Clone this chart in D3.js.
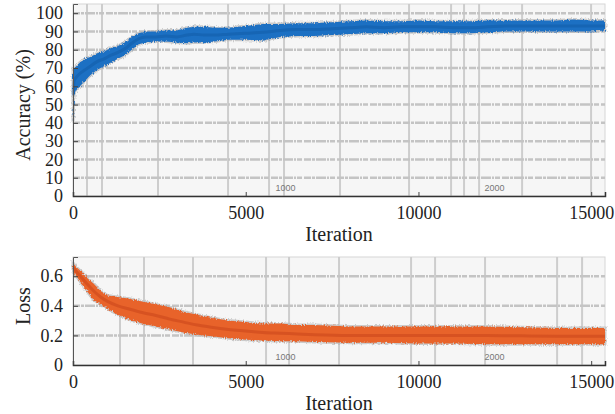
<!DOCTYPE html>
<html>
<head>
<meta charset="utf-8">
<script src="https://cdn.jsdelivr.net/npm/d3@7"></script>
<style>
  body { margin: 0; background: #fff; }
  svg { display: block; }
</style>
</head>
<body>
<div id="chart"></div>
<script>
// accuracy band
const accIter  = [0, 30, 100, 200, 350, 500, 700, 900, 1100, 1300, 1500, 1700, 1900, 2100, 2400, 2700, 3000, 3300, 3500, 3800, 4100, 4500, 5000, 5500, 6000, 6500, 7000, 7500, 8000, 8500, 9000, 9500, 10000, 10500, 11000, 11500, 12000, 12500, 13000, 13500, 14000, 14500, 15000, 15400];
const accUpper = [70, 70, 71, 73, 75, 76, 78, 79, 81, 82, 84, 87, 89, 90, 90, 90.5, 90.5, 92, 92.5, 92.5, 92, 92, 93, 94, 94, 94.5, 94.5, 95, 95.5, 96, 95.5, 95.5, 96, 95.5, 95.5, 95.5, 96, 96, 96, 96, 96, 96.5, 96, 96];
const accLower = [40, 55, 58, 60, 63, 66, 69, 71, 73, 75, 77, 80, 83, 84, 84.5, 84.5, 84, 83.5, 84, 84, 84.5, 85.5, 85.5, 85, 87, 87.5, 87.5, 88, 88.5, 89, 89, 89.5, 89.5, 89.5, 89, 89, 89.5, 90, 90, 90, 90, 90, 90, 90.5];
const accMean  = [55, 63, 65, 67, 69, 71, 73.5, 75, 77, 78.5, 80.5, 83.5, 86, 87, 87, 87.5, 87, 88, 88.5, 88, 88, 88.5, 89, 89.5, 90.5, 91, 91, 91.5, 92, 92.5, 92, 92.5, 92.5, 92.5, 92, 92, 92.5, 93, 93, 93, 93, 93, 93, 93];

// loss band
const lossIter  = [0, 100, 250, 400, 600, 800, 1000, 1300, 1600, 2000, 2400, 2800, 3200, 3600, 4000, 4500, 5000, 5500, 6000, 6500, 7000, 8000, 9000, 10000, 11000, 12000, 13000, 14000, 15000, 15400];
const lossUpper = [0.69, 0.66, 0.63, 0.59, 0.55, 0.50, 0.47, 0.46, 0.45, 0.43, 0.41, 0.39, 0.36, 0.34, 0.32, 0.30, 0.29, 0.28, 0.28, 0.27, 0.27, 0.26, 0.26, 0.26, 0.26, 0.26, 0.255, 0.25, 0.25, 0.25];
const lossLower = [0.63, 0.60, 0.55, 0.50, 0.44, 0.41, 0.38, 0.34, 0.31, 0.28, 0.26, 0.24, 0.22, 0.205, 0.195, 0.18, 0.17, 0.165, 0.16, 0.16, 0.155, 0.15, 0.15, 0.145, 0.145, 0.14, 0.14, 0.14, 0.14, 0.14];
const lossMean  = [0.66, 0.63, 0.59, 0.55, 0.50, 0.46, 0.43, 0.40, 0.38, 0.355, 0.335, 0.31, 0.29, 0.27, 0.255, 0.24, 0.23, 0.22, 0.215, 0.21, 0.205, 0.20, 0.20, 0.20, 0.20, 0.20, 0.197, 0.195, 0.195, 0.195];

// ticks
const xTicks    = [0, 5000, 10000, 15000];
const accTicks  = [0, 10, 20, 30, 40, 50, 60, 70, 80, 90, 100];
const lossTicks = [0, 0.2, 0.4, 0.6];

// background screenshot grid (vertical lines, in iterations) and epoch labels
const accVGrid  = [405, 840, 2461, 4488, 5675, 6109, 7730, 9728, 10944, 11320, 11755, 13000, 14997];
const lossVGrid = [1361, 2056, 3474, 5588, 6254, 7701, 9786, 10481, 11928, 14013, 14737];
const epochLabels = ["1000", "2000"];
const epochIters  = [6150, 12200];

const W = 615, H = 414;
const serif = '"Liberation Serif", "Times New Roman", serif';

const svg = d3.select("#chart").append("svg")
    .attr("width", W).attr("height", H);

// rough edge for the noisy training bands
const defs = svg.append("defs");
const rough = defs.append("filter").attr("id", "rough")
    .attr("x", "-2%").attr("y", "-10%").attr("width", "104%").attr("height", "120%");
rough.append("feTurbulence").attr("type", "fractalNoise")
    .attr("baseFrequency", "0.9 0.5").attr("numOctaves", 2).attr("seed", 3).attr("result", "n");
rough.append("feDisplacementMap").attr("in", "SourceGraphic").attr("in2", "n")
    .attr("scale", 4).attr("xChannelSelector", "R").attr("yChannelSelector", "G");

function panel(opt) {
  const {top, bottom, yDomain, yTicks, yFmt, vGrid, label, iter, upper, lower, mean, fill, dark, darkOp, labelY} = opt;
  const left = 73, right = 605;

  const x = d3.scaleLinear().domain([0, 15400]).range([left, right]);
  const y = d3.scaleLinear().domain(yDomain).range([bottom, top]);

  const g = svg.append("g");

  // plot background
  g.append("rect")
      .attr("x", left).attr("y", top)
      .attr("width", right - left).attr("height", bottom - top)
      .attr("fill", "#f6f6f6")
      .attr("stroke", "#d6d6d6").attr("stroke-width", 1);

  // vertical gridlines
  g.selectAll(".vg").data(vGrid).enter().append("line")
      .attr("x1", d => x(d)).attr("x2", d => x(d))
      .attr("y1", top).attr("y2", bottom)
      .attr("stroke", "#cdcdcd").attr("stroke-width", 2);

  // horizontal dashed gridlines
  g.selectAll(".hg").data(yTicks.filter(d => d > 0)).enter().append("line")
      .attr("x1", left).attr("x2", right)
      .attr("y1", d => y(d)).attr("y2", d => y(d))
      .attr("stroke", "#c4c4c4").attr("stroke-width", 2.5)
      .attr("stroke-dasharray", "7,1,3,1,10,1,2,1,5,2");

  // epoch labels
  g.selectAll(".ep").data(epochIters).enter().append("text")
      .attr("x", d => x(d)).attr("y", bottom - 5)
      .attr("text-anchor", "middle")
      .attr("font-family", "Liberation Sans, Arial, sans-serif")
      .attr("font-size", 9).attr("fill", "#777")
      .text((d, i) => epochLabels[i]);

  const pts = iter.map((t, i) => ({t, u: upper[i], l: lower[i], m: mean[i]}));

  const area = d3.area()
      .x(d => x(d.t)).y0(d => y(d.l)).y1(d => y(d.u))
      .curve(d3.curveLinear);

  const band = g.append("g").attr("filter", "url(#rough)");

  // fuzzy gray halo around the band
  band.append("path").datum(pts)
      .attr("d", area)
      .attr("fill", "none")
      .attr("stroke", "#b8b8b8").attr("stroke-width", 3).attr("stroke-opacity", 0.7);

  band.append("path").datum(pts)
      .attr("d", area)
      .attr("fill", fill);

  g.append("path").datum(pts)
      .attr("d", d3.line().x(d => x(d.t)).y(d => y(d.m)).curve(d3.curveMonotoneX))
      .attr("fill", "none")
      .attr("stroke", dark).attr("stroke-width", 3).attr("stroke-opacity", darkOp);

  // axes
  const yAxis = d3.axisLeft(y).tickValues(yTicks).tickSize(-5).tickPadding(10).tickFormat(yFmt);
  const ya = g.append("g").attr("transform", `translate(${left},0)`).call(yAxis);
  ya.select(".domain").attr("stroke", "#555");
  ya.selectAll(".tick line").attr("stroke", "#444");
  ya.selectAll(".tick text").attr("font-size", 18).attr("fill", "#222").attr("font-family", serif);

  const xAxis = d3.axisBottom(x).tickValues(xTicks).tickSize(-4).tickPadding(10).tickFormat(d3.format("d"));
  const xa = g.append("g").attr("transform", `translate(0,${bottom})`).call(xAxis);
  xa.select(".domain").attr("stroke", "#333").attr("stroke-width", 1.5);
  xa.selectAll(".tick line").attr("stroke", "#444");
  xa.selectAll(".tick text").attr("font-size", 18).attr("fill", "#222").attr("font-family", serif);

  g.append("text")
      .attr("x", (left + right) / 2).attr("y", bottom + 45)
      .attr("text-anchor", "middle")
      .attr("font-family", serif).attr("font-size", 20).attr("fill", "#222")
      .text("Iteration");

  g.append("text")
      .attr("transform", `translate(30,${labelY}) rotate(-90)`)
      .attr("text-anchor", "middle")
      .attr("font-family", serif).attr("font-size", 20).attr("fill", "#222")
      .text(label);
}

panel({
  top: 4, bottom: 196, yDomain: [0, 105], yTicks: accTicks, yFmt: d3.format("d"),
  vGrid: accVGrid, label: "Accuracy (%)", labelY: 105,
  iter: accIter, upper: accUpper, lower: accLower, mean: accMean,
  fill: "#1e6fc3", dark: "#0b4f99", darkOp: 0.35
});

panel({
  top: 257, bottom: 365, yDomain: [0, 0.73], yTicks: lossTicks, yFmt: d => d === 0 ? "0" : d3.format(".1f")(d),
  vGrid: lossVGrid, label: "Loss", labelY: 306,
  iter: lossIter, upper: lossUpper, lower: lossLower, mean: lossMean,
  fill: "#e8642c", dark: "#c9461a", darkOp: 0.55
});
</script>
</body>
</html>
